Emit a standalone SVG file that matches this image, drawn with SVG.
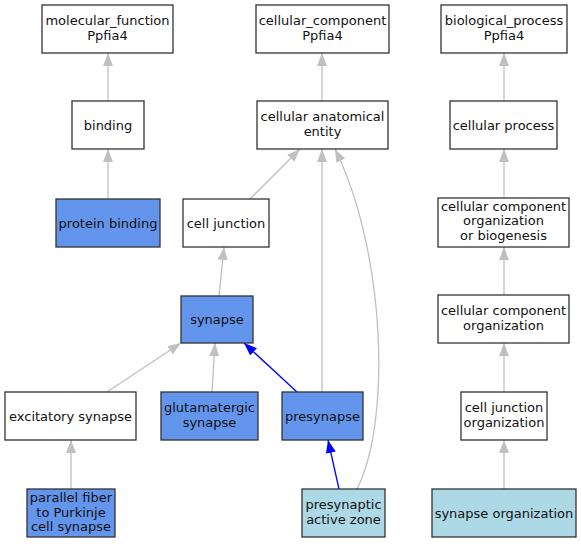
<svg xmlns="http://www.w3.org/2000/svg" width="581" height="544" viewBox="0 0 581 544">
<style>
.n rect{stroke:#333;stroke-width:1.3}
.w{fill:#fff}.b{fill:#6495ed}.l{fill:#add8e6}
text{font-family:"DejaVu Sans",sans-serif;font-size:13px;fill:#111;text-anchor:middle}
.g{stroke:#c0c0c0;stroke-width:1.3;fill:none}
.u{stroke:#0000ff;stroke-width:1.3;fill:none}
</style>
<defs>
<marker id="ag" markerUnits="userSpaceOnUse" markerWidth="14" markerHeight="11" refX="13" refY="5" orient="auto"><path d="M0,0L13,5L0,10z" fill="#c0c0c0"/></marker>
<marker id="ab" markerUnits="userSpaceOnUse" markerWidth="14" markerHeight="11" refX="13" refY="5" orient="auto"><path d="M0,0L13,5L0,10z" fill="#0000ff"/></marker>
</defs>
<rect width="581" height="544" fill="#fff"/>
<g id="edges">
<path class="g" marker-end="url(#ag)" d="M108,101L108,53"/>
<path class="g" marker-end="url(#ag)" d="M108,199L108,149"/>
<path class="g" marker-end="url(#ag)" d="M322,101L322,53"/>
<path class="g" marker-end="url(#ag)" d="M250,199L300,149"/>
<path class="g" marker-end="url(#ag)" d="M219,296L224,247"/>
<path class="g" marker-end="url(#ag)" d="M107,392L181,343"/>
<path class="g" marker-end="url(#ag)" d="M212,392L215,343"/>
<path class="u" marker-end="url(#ab)" d="M297,392L244,343"/>
<path class="g" marker-end="url(#ag)" d="M322,392L322,149"/>
<path class="g" marker-end="url(#ag)" d="M71,489L71,440"/>
<path class="u" marker-end="url(#ab)" d="M339,489L328,440"/>
<path class="g" marker-end="url(#ag)" d="M357,489C392,420 385,250 335,149"/>
<path class="g" marker-end="url(#ag)" d="M504,101L504,53"/>
<path class="g" marker-end="url(#ag)" d="M504,198L504,149"/>
<path class="g" marker-end="url(#ag)" d="M504,295L504,247"/>
<path class="g" marker-end="url(#ag)" d="M504,392L504,343"/>
<path class="g" marker-end="url(#ag)" d="M504,489L504,440"/>
</g>
<g id="molecular_function" class="n"><rect class="w" x="42" y="5" width="131" height="48"/><text x="107.5" y="24.5">molecular_function</text><text x="107.5" y="39.5">Ppfia4</text></g>
<g id="binding" class="n"><rect class="w" x="72" y="101" width="72" height="48"/><text x="108" y="129.5">binding</text></g>
<g id="protein_binding" class="n"><rect class="b" x="56" y="199" width="104" height="48"/><text x="108" y="227.5">protein binding</text></g>
<g id="cellular_component" class="n"><rect class="w" x="256" y="5" width="133" height="48"/><text x="322.5" y="24.5">cellular_component</text><text x="322.5" y="39.5">Ppfia4</text></g>
<g id="cellular_anatomical_entity" class="n"><rect class="w" x="257" y="101" width="131" height="48"/><text x="322.5" y="120.5">cellular anatomical</text><text x="322.5" y="135.5">entity</text></g>
<g id="cell_junction" class="n"><rect class="w" x="183" y="199" width="86" height="48"/><text x="226" y="227.5">cell junction</text></g>
<g id="synapse" class="n"><rect class="b" x="181" y="296" width="72" height="47"/><text x="217" y="324">synapse</text></g>
<g id="excitatory_synapse" class="n"><rect class="w" x="5" y="392" width="131" height="48"/><text x="70.5" y="420.5">excitatory synapse</text></g>
<g id="glutamatergic_synapse" class="n"><rect class="b" x="161" y="392" width="97" height="48"/><text x="209.5" y="411.5">glutamatergic</text><text x="209.5" y="426.5">synapse</text></g>
<g id="presynapse" class="n"><rect class="b" x="282" y="392" width="81" height="48"/><text x="322.5" y="420.5">presynapse</text></g>
<g id="parallel_fiber" class="n"><rect class="b" x="27" y="489" width="88" height="48"/><text x="71" y="502">parallel fiber</text><text x="71" y="516.5">to Purkinje</text><text x="71" y="531">cell synapse</text></g>
<g id="presynaptic_active_zone" class="n"><rect class="l" x="302" y="489" width="83" height="48"/><text x="343.5" y="508.5">presynaptic</text><text x="343.5" y="523.5">active zone</text></g>
<g id="biological_process" class="n"><rect class="w" x="441" y="5" width="126" height="48"/><text x="504" y="24.5">biological_process</text><text x="504" y="39.5">Ppfia4</text></g>
<g id="cellular_process" class="n"><rect class="w" x="450" y="101" width="107" height="48"/><text x="503.5" y="129.5">cellular process</text></g>
<g id="ccoob" class="n"><rect class="w" x="438" y="198" width="131" height="49"/><text x="503.5" y="210.5">cellular component</text><text x="503.5" y="225">organization</text><text x="503.5" y="239.5">or biogenesis</text></g>
<g id="cco" class="n"><rect class="w" x="438" y="295" width="131" height="48"/><text x="503.5" y="314.5">cellular component</text><text x="503.5" y="329.5">organization</text></g>
<g id="cjo" class="n"><rect class="w" x="461" y="392" width="86" height="48"/><text x="504" y="411.5">cell junction</text><text x="504" y="426.5">organization</text></g>
<g id="synapse_organization" class="n"><rect class="l" x="432" y="489" width="144" height="48"/><text x="504" y="517.5">synapse organization</text></g>
</svg>
